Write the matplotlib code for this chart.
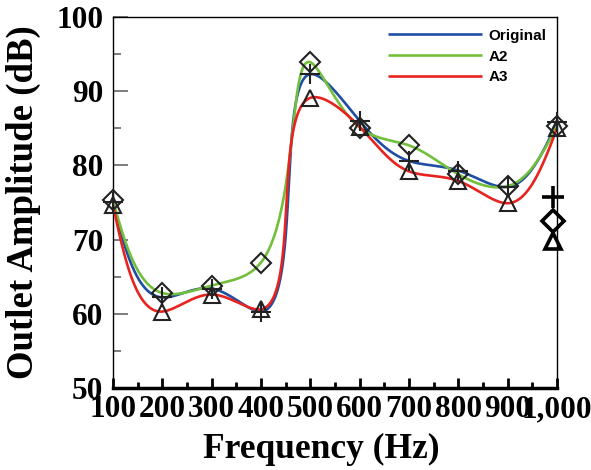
import numpy as np
import matplotlib
matplotlib.use("Agg")
import matplotlib.pyplot as plt
from matplotlib.ticker import MultipleLocator, FuncFormatter

freq = [100, 200, 300, 400, 500, 600, 700, 800, 900, 1000]
original = [75.0, 62.2, 63.4, 60.3, 92.3, 86.0, 80.6, 79.3, 77.1, 85.8]
a2 = [75.3, 62.8, 63.8, 66.9, 93.9, 85.1, 82.7, 78.8, 77.2, 85.3]
a3 = [74.7, 60.3, 62.6, 60.6, 89.1, 85.2, 79.2, 77.9, 74.9, 85.0]
series_names = ["Original", "A2", "A3"]
series_colors = ["#1f4ea3", "#72bf3c", "#e8231f"]
series_markers = ["+", "D", "^"]
# stray marker key drawn near the right edge in the reference
key_x = [991, 991, 991]
key_y = [75.7, 72.5, 69.8]

plt.rcParams["font.family"] = ["Liberation Serif", "DejaVu Serif"]

fig = plt.figure(figsize=(5.91, 4.70), dpi=100)
ax = fig.add_axes([0.191, 0.1745, 0.7515, 0.7893])
ax.set_xlim(100, 1000)
ax.set_ylim(50, 100)


def natural_spline(t, v, tt):
    n = len(t)
    h = np.diff(t)
    A = np.zeros((n, n))
    b = np.zeros(n)
    A[0, 0] = 1
    A[-1, -1] = 1
    for i in range(1, n - 1):
        A[i, i - 1] = h[i - 1]
        A[i, i] = 2 * (h[i - 1] + h[i])
        A[i, i + 1] = h[i]
        b[i] = 3 * ((v[i + 1] - v[i]) / h[i] - (v[i] - v[i - 1]) / h[i - 1])
    c = np.linalg.solve(A, b)
    out = np.empty_like(tt)
    for k, x in enumerate(tt):
        i = min(max(np.searchsorted(t, x) - 1, 0), n - 2)
        d = x - t[i]
        bi = (v[i + 1] - v[i]) / h[i] - h[i] * (2 * c[i] + c[i + 1]) / 3
        di = (c[i + 1] - c[i]) / (3 * h[i])
        out[k] = v[i] + bi * d + c[i] * d ** 2 + di * d ** 3
    return out


def smooth_curve(xs, ys, alpha=0.8):
    pts = ax.transData.transform(np.column_stack([xs, ys]))
    seg = np.hypot(np.diff(pts[:, 0]), np.diff(pts[:, 1])) ** alpha
    t = np.concatenate([[0], np.cumsum(seg)])
    tt = np.linspace(0, t[-1], 2000)
    px = natural_spline(t, pts[:, 0], tt)
    py = natural_spline(t, pts[:, 1], tt)
    data = ax.transData.inverted().transform(np.column_stack([px, py]))
    return data[:, 0], data[:, 1]


all_series = [original, a2, a3]
for vals, name, col in zip(all_series, series_names, series_colors):
    cx, cy = smooth_curve(np.array(freq, float), np.array(vals, float))
    ax.plot(cx, cy, color=col, lw=1.9, label=name, zorder=3, solid_capstyle="butt")

msizes = {"+": 15, "D": 10, "^": 11}
for vals, mk in zip(all_series, series_markers):
    ax.plot(freq, vals, linestyle="none", marker=mk, ms=msizes[mk],
            mfc="none", mec="#222222", mew=1.5, zorder=4, clip_on=False)
for xk, yk, mk in zip(key_x, key_y, series_markers):
    ax.plot([xk], [yk], linestyle="none", marker=mk, ms=msizes[mk] + 1,
            mfc="none", mec="black", mew=2.6, zorder=5, clip_on=False)

ax.xaxis.set_major_locator(MultipleLocator(100))
ax.xaxis.set_minor_locator(MultipleLocator(50))
ax.yaxis.set_major_locator(MultipleLocator(10))
ax.yaxis.set_minor_locator(MultipleLocator(5))
ax.xaxis.set_major_formatter(FuncFormatter(lambda v, p: f"{int(round(v)):,}"))

ax.tick_params(axis="x", which="major", direction="in", length=7, width=2,
               labelsize=22.5, pad=5, color="black")
ax.tick_params(axis="x", which="minor", direction="in", length=4, width=2, color="black")
ax.tick_params(axis="y", which="major", direction="in", length=11, width=1.2,
               labelsize=22.5, pad=7, color="#666666")
ax.tick_params(axis="y", which="minor", direction="in", length=6, width=1.2, color="#666666")
for lab in ax.get_xticklabels() + ax.get_yticklabels():
    lab.set_fontweight("bold")

for s in ["left", "right", "top"]:
    ax.spines[s].set_linewidth(1.0)
ax.spines["bottom"].set_linewidth(2.5)

ax.set_xlabel("Frequency (Hz)", fontsize=25.5, fontweight="bold")
ax.xaxis.set_label_coords(0.47, -0.12)
ax.set_ylabel("Outlet Amplitude (dB)", fontsize=26.5, fontweight="bold")
ax.yaxis.set_label_coords(-0.162, 0.5)

leg = ax.legend(loc="upper right", frameon=False, handlelength=6.1,
                prop={"family": "Liberation Sans", "weight": "bold", "size": 11},
                labelspacing=0.45, borderaxespad=0.0, handletextpad=0.45,
                bbox_to_anchor=(0.99, 0.985))

fig.savefig("out.png", dpi=100)
